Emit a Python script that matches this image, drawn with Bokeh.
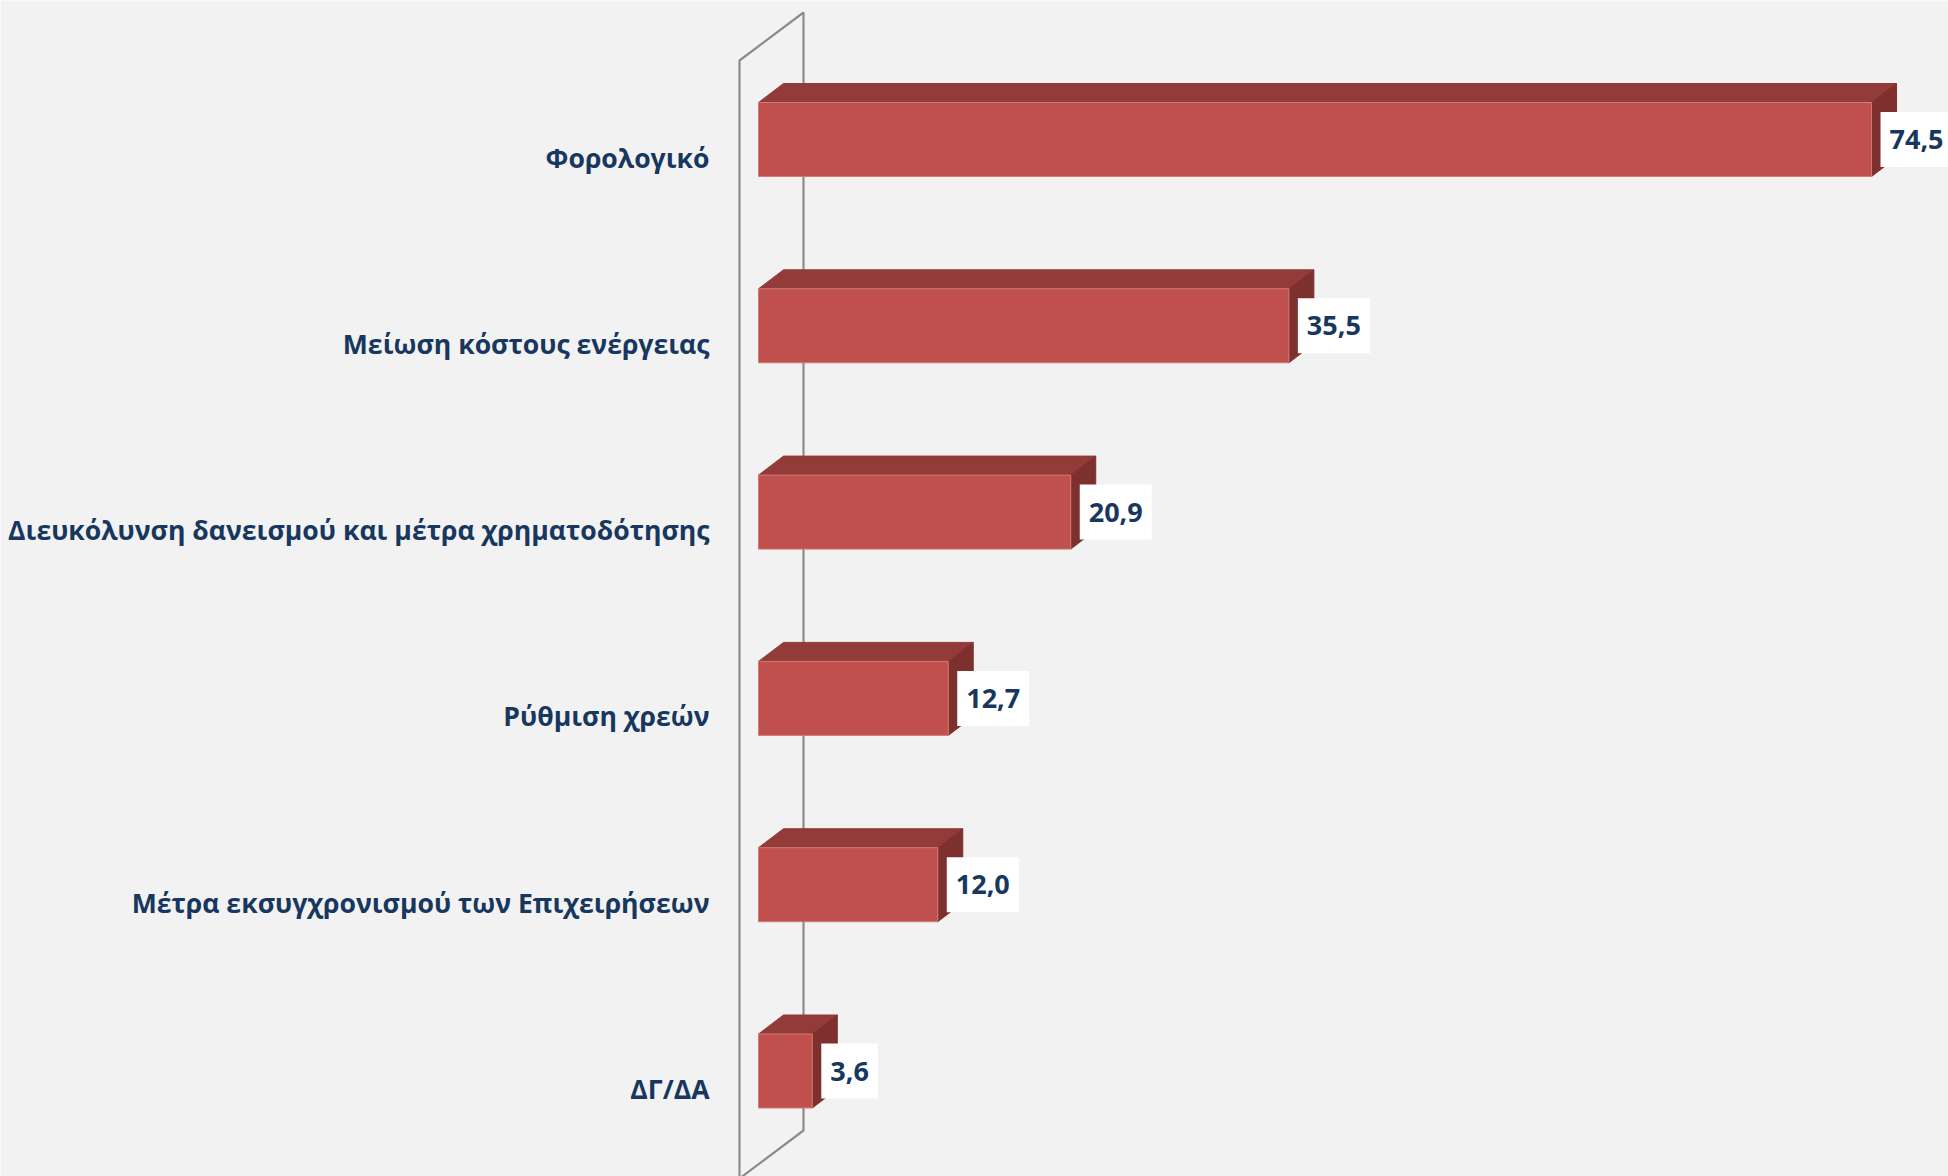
from bokeh.plotting import figure
from bokeh.models import Range1d
from bokeh.core.properties import value
from bokeh.embed import file_html
from bokeh.resources import INLINE

categories = [
    "Φορολογικό",
    "Μείωση κόστους ενέργειας",
    "Διευκόλυνση δανεισμού και μέτρα χρηματοδότησης",
    "Ρύθμιση χρεών",
    "Μέτρα εκσυγχρονισμού των Επιχειρήσεων",
    "ΔΓ/ΔΑ",
]
values = [74.5, 35.5, 20.9, 12.7, 12.0, 3.6]
value_labels = ["74,5", "35,5", "20,9", "12,7", "12,0", "3,6"]

W, H = 1948, 1176
PPU = 14.94   # pixels per value unit
ROW = 186.3   # pixels per category
X0 = 758      # canvas x of value 0
Y0 = 139      # canvas y of first category centre

FRONT = "#C0504D"
TOP = "#933B39"
SIDE = "#7E302E"
TXT = "#17375E"
BG = "#F2F2F2"
FONT = "Open Sans"

p = figure(width=W, height=H, output_backend="svg", toolbar_location=None,
           x_range=Range1d(-X0 / PPU, (W - X0) / PPU),
           y_range=Range1d((H - Y0) / ROW, -Y0 / ROW),
           min_border=0)
p.xaxis.visible = False
p.yaxis.visible = False
p.grid.visible = False
p.outline_line_color = None
p.background_fill_color = BG
p.border_fill_color = BG

def dx(px):
    return px / PPU

def dy(px):
    return px / ROW

# back wall outline
wf, wb = dx(-19), dx(45)
wt_f, wt_b = dy(60 - Y0), dy(12 - Y0)
wb_b, wb_f = dy(1130 - Y0), dy(1178 - Y0)
p.line([wf, wf, wb, wb, wf], [wb_f, wt_f, wt_b, wb_b, wb_f],
       line_color="#8C8C8C", line_width=2.2)

idx = list(range(len(categories)))
hh = dy(37)
ddx, ddy = dx(25), dy(19)

top_xs, top_ys, side_xs, side_ys = [], [], [], []
for i, v in zip(idx, values):
    t, b = i - hh, i + hh
    top_xs.append([0, v, v + ddx, ddx])
    top_ys.append([t, t, t - ddy, t - ddy])
    side_xs.append([v, v + ddx, v + ddx, v])
    side_ys.append([t, t - ddy, b - ddy, b])

p.patches(top_xs, top_ys, fill_color=TOP, line_color=TOP, line_width=1)
p.patches(side_xs, side_ys, fill_color=SIDE, line_color=SIDE, line_width=1)
p.quad(left=[0] * len(values), right=values,
       top=[i - hh for i in idx], bottom=[i + hh for i in idx],
       fill_color=FRONT, line_color="#D07A78", line_width=1)

# value labels in white boxes
p.text(x=[v + dx(9) for v in values], y=idx, text=value_labels,
       text_font=value(FONT), text_font_style="bold", text_font_size="27px",
       text_color=TXT, text_align="left", text_baseline="middle",
       background_fill_color="white",
       padding=dict(left=9, right=9, top=18, bottom=18))

# category labels
p.text(x=[dx(-49)] * len(categories), y=[i + dy(18) for i in idx], text=categories,
       text_font=value(FONT), text_font_style="bold", text_font_size="26.6px",
       text_color=TXT, text_align="right", text_baseline="middle")

html = file_html(p, INLINE)
html = html.replace("<body>", '<body style="background:#F2F2F2;margin:0">', 1)
open("out.html", "w").write(html)
